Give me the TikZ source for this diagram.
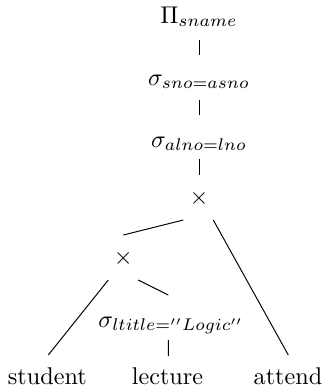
\documentclass[tikz,border=0pt]{standalone}
\usepackage{amsmath}
\usepackage{amssymb}

\begin{document}
\begin{tikzpicture}[x=0.4132pt, y=-0.4132pt,
    op/.style={anchor=base, inner sep=0pt},
    rel/.style={anchor=base, inner sep=0pt}]
            \useasboundingbox (0,0) rectangle (325,387);

            % operators, top to bottom
            \node[op] (proj) at (199, 23) {$\Pi_{sname}$};
            \node[op] (selA) at (199, 85) {$\sigma_{sno=asno}$};
            \node[op] (selB) at (199, 147) {$\sigma_{alno=lno}$};
            \node[op] (crossA) at (199, 204.5) {$\times$};
            \node[op] (crossB) at (123.3, 264.5) {$\times$};
            \node[op] (selC) at (171, 327) {$\sigma_{ltitle=''Logic''}$};

            % relations
            \node[rel] (student) at (47.3, 384) {student};
            \node[rel] (lecture) at (167.5, 384) {lecture};
            \node[rel] (attend) at (288, 384) {attend};

            \draw ([shift={(0,17)}]proj.base) -- ([shift={(0,-30)}]selA.base);
            \draw ([shift={(0,15)}]selA.base) -- ([shift={(0,-32)}]selB.base);
            \draw ([shift={(0,12)}]selB.base) -- ([shift={(0,-29.5)}]crossA.base);
            \draw ([shift={(-15.7,15.5)}]crossA.base) -- ([shift={(0,-29.5)}]crossB.base);
            \draw ([shift={(14.3,15.5)}]crossA.base) -- ([shift={(0.3,-29)}]attend.base);
            \draw ([shift={(-15,15.5)}]crossB.base) -- ([shift={(1,-29)}]student.base);
            \draw ([shift={(15,15.5)}]crossB.base) -- ([shift={(-2.7,-32)}]selC.base);
            \draw ([shift={(-2.7,13)}]selC.base) -- ([shift={(0.8,-28)}]lecture.base);
        \end{tikzpicture}
\end{document}
